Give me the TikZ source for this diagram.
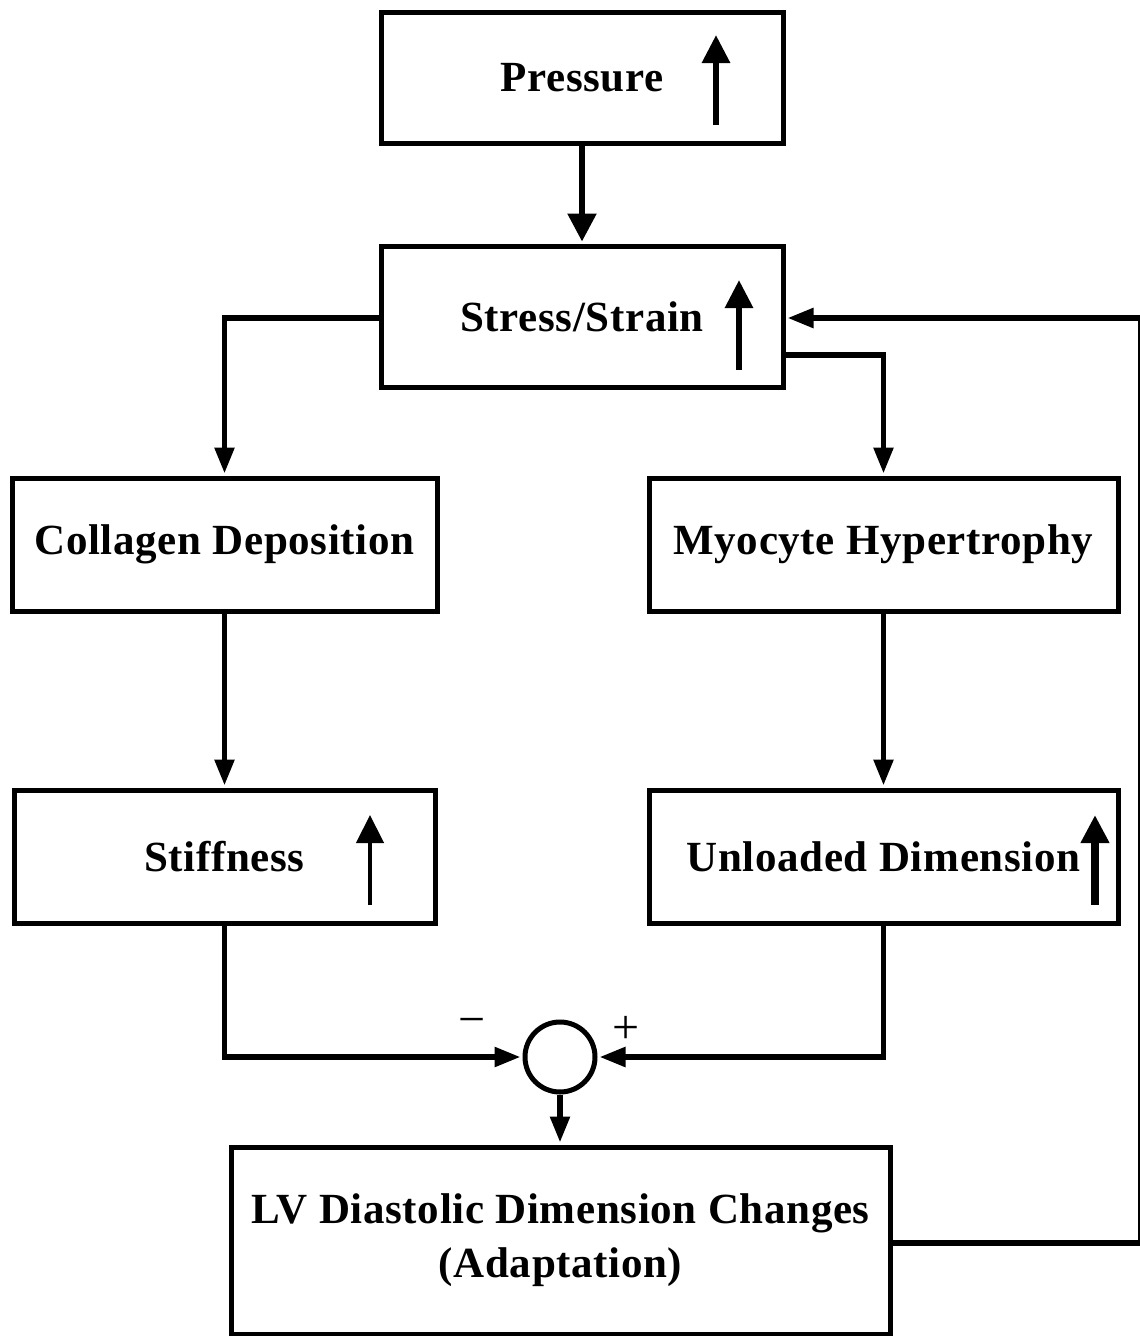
\documentclass[tikz,border=0pt]{standalone}
\usepackage{fontspec}
\setmainfont{Liberation Serif}[LetterSpace=1.5]
\newfontfamily\signfont{Liberation Serif}
\usetikzlibrary{arrows.meta}
\begin{document}
\begin{tikzpicture}[x=1pt,y=-1pt,
  box/.style={draw, line width=5pt, inner sep=0pt, align=center,
    font=\fontsize{43}{54}\selectfont\bfseries},
  conn/.style={line width=5.5pt, -{Triangle[length=26pt,width=19pt]}, shorten >=2pt},
  bigconn/.style={line width=5.5pt, -{Triangle[length=28pt,width=28pt]}, shorten >=2pt},
  uparr/.style={-{Triangle[length=28pt,width=27pt]}},
  sign/.style={inner sep=0pt, font=\signfont\fontsize{48}{48}\selectfont}]
\useasboundingbox (0,0) rectangle (1140,1336);
\node[box, minimum width=402pt, minimum height=131pt] (pres) at (582,77.5) {Pressure};
\node[box, minimum width=402pt, minimum height=141pt] (stress) at (582,316.5) {Stress/Strain};
\node[box, minimum width=425pt, minimum height=133pt] (coll) at (224.5,544.5) {Collagen Deposition};
\node[box, minimum width=469pt, minimum height=133pt] (myo) at (883.5,544.5) {Myocyte Hypertrophy};
\node[box, minimum width=421pt, minimum height=133pt] (stiff) at (224.5,856.5) {Stiffness};
\node[box, minimum width=469pt, minimum height=133pt] (unl) at (883.5,856.5) {Unloaded Dimension};
\node[box, minimum width=659pt, minimum height=187pt] (lv) at (560.5,1240.5) {LV Diastolic Dimension Changes\\(Adaptation)};
\node[draw, circle, line width=5pt, minimum size=70pt, inner sep=0pt] (sum) at (560,1057) {};
\node[sign] (minus) at (472,1027) {−};
\node[sign] (plus) at (626,1030) {+};
% up arrows inside boxes
\draw[uparr, line width=6pt] ([xshift=134pt,yshift=-47.5pt]pres.center) -- ([xshift=134pt,yshift=42.5pt]pres.center);
\draw[uparr, line width=6pt] ([xshift=157pt,yshift=-53.5pt]stress.center) -- ([xshift=157pt,yshift=36.5pt]stress.center);
\draw[uparr, line width=4.5pt] ([xshift=145.5pt,yshift=-48.5pt]stiff.center) -- ([xshift=145.5pt,yshift=41.5pt]stiff.center);
\draw[uparr, line width=7.5pt] ([xshift=211.5pt,yshift=-48.5pt]unl.center) -- ([xshift=211.5pt,yshift=41.5pt]unl.center);
% connectors
\draw[bigconn] (pres.south) -- (stress.north);
\draw[conn] ([yshift=-1.5pt]stress.west) -| (coll.north);
\draw[conn] ([yshift=-38.5pt]stress.east) -| (myo.north);
\draw[conn] (coll.south) -- (stiff.north);
\draw[conn] (myo.south) -- (unl.north);
\draw[conn] (stiff.south) |- (sum.west);
\draw[conn] (unl.south) |- (sum.east);
\draw[conn] (sum.south) -- (sum.south |- lv.north);
\draw[conn] ([yshift=-2.5pt]lv.east) -- ++(248,0) |- ([yshift=-1.5pt]stress.east);
\end{tikzpicture}
\end{document}
